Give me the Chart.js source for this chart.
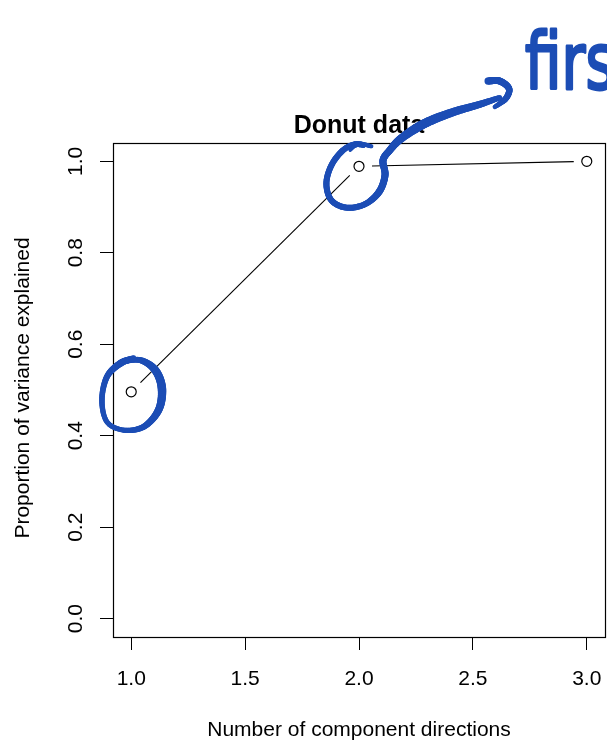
<!DOCTYPE html>
<html>
<head>
<meta charset="utf-8">
<title>Donut data</title>
<script src="https://cdn.jsdelivr.net/npm/chart.js@4.4.1/dist/chart.umd.min.js"></script>
<style>
  html, body { margin: 0; padding: 0; background: #fff; }
  canvas { display: block; }
</style>
</head>
<body>
<canvas id="scree" width="607" height="740"></canvas>
<script>
// Cumulative proportion of variance explained by the leading component directions
const components = [1, 2, 3];
const varianceExplained = [0.496, 0.989, 1.0];

// Axis ticks
const xTicks = [1.0, 1.5, 2.0, 2.5, 3.0];
const yTicks = [0.0, 0.2, 0.4, 0.6, 0.8, 1.0];

// Text
const mainTitle = 'Donut data';
const xTitle = 'Number of component directions';
const yTitle = 'Proportion of variance explained';
const penNote = 'first';

const FONT = '"Liberation Sans", Arial, Helvetica, sans-serif';
const INK = '#000000';
const PEN = '#1c4db5';
const GAP = 13; // space left between a connecting line and its points

function fmt(v) { return v.toFixed(1); }

// Smooth brush stroke through control points with a varying width
function brush(ctx, pts, widths) {
  const n = pts.length;
  const samples = [];
  for (let i = 0; i < n - 1; i++) {
    const p0 = pts[Math.max(i - 1, 0)], p1 = pts[i], p2 = pts[i + 1], p3 = pts[Math.min(i + 2, n - 1)];
    for (let s = 0; s < 12; s++) {
      const t = s / 12, t2 = t * t, t3 = t2 * t;
      const cr = k => 0.5 * ((2 * p1[k]) + (-p0[k] + p2[k]) * t +
        (2 * p0[k] - 5 * p1[k] + 4 * p2[k] - p3[k]) * t2 +
        (-p0[k] + 3 * p1[k] - 3 * p2[k] + p3[k]) * t3);
      samples.push([cr(0), cr(1), widths[i] + (widths[i + 1] - widths[i]) * t]);
    }
  }
  samples.push([pts[n - 1][0], pts[n - 1][1], widths[n - 1]]);
  ctx.save();
  ctx.strokeStyle = PEN;
  ctx.lineCap = 'round';
  ctx.lineJoin = 'round';
  for (let k = 0; k < samples.length - 1; k++) {
    ctx.lineWidth = samples[k][2];
    ctx.beginPath();
    ctx.moveTo(samples[k][0], samples[k][1]);
    ctx.lineTo(samples[k + 1][0], samples[k + 1][1]);
    ctx.stroke();
  }
  ctx.restore();
}

function offsetPts(origin, rel) {
  return rel.map(p => [origin.x + p[0], origin.y + p[1]]);
}

const screePlot = {
  id: 'screePlot',
  beforeDraw(chart) {
    const ctx = chart.ctx;
    ctx.save();
    ctx.fillStyle = '#ffffff';
    ctx.fillRect(0, 0, chart.width, chart.height);
    ctx.restore();
  },
  beforeDatasetsDraw(chart) {
    // connecting lines, broken around each point
    const ctx = chart.ctx, xs = chart.scales.x, ys = chart.scales.y;
    const pts = components.map((c, i) => ({ x: xs.getPixelForValue(c), y: ys.getPixelForValue(varianceExplained[i]) }));
    ctx.save();
    ctx.strokeStyle = INK;
    ctx.lineWidth = 1.1;
    for (let i = 0; i < pts.length - 1; i++) {
      const a = pts[i], b = pts[i + 1];
      const dx = b.x - a.x, dy = b.y - a.y, len = Math.hypot(dx, dy);
      if (len <= 2 * GAP) continue;
      const ux = dx / len, uy = dy / len;
      ctx.beginPath();
      ctx.moveTo(a.x + ux * GAP, a.y + uy * GAP);
      ctx.lineTo(b.x - ux * GAP, b.y - uy * GAP);
      ctx.stroke();
    }
    ctx.restore();
  },
  afterDraw(chart) {
    const ctx = chart.ctx, area = chart.chartArea;
    const xs = chart.scales.x, ys = chart.scales.y;

    // plot frame
    ctx.save();
    ctx.strokeStyle = INK;
    ctx.lineWidth = 1.2;
    ctx.strokeRect(Math.round(area.left) + 0.5, Math.round(area.top) + 0.5,
      Math.round(area.right - area.left), Math.round(area.bottom - area.top));

    ctx.fillStyle = INK;
    // x tick labels
    ctx.font = '21px ' + FONT;
    ctx.textAlign = 'center';
    ctx.textBaseline = 'alphabetic';
    xTicks.forEach(v => ctx.fillText(fmt(v), xs.getPixelForValue(v), 685));
    // y tick labels, rotated
    yTicks.forEach(v => {
      ctx.save();
      ctx.translate(82, ys.getPixelForValue(v));
      ctx.rotate(-Math.PI / 2);
      ctx.fillText(fmt(v), 0, 0);
      ctx.restore();
    });
    // axis titles
    const cx = (area.left + area.right) / 2;
    const cy = (area.top + area.bottom) / 2;
    ctx.fillText(xTitle, cx, 736);
    ctx.save();
    ctx.translate(28.5, cy - 2);
    ctx.rotate(-Math.PI / 2);
    ctx.fillText(yTitle, 0, 0);
    ctx.restore();
    // main title
    ctx.font = 'bold 25px ' + FONT;
    ctx.fillText(mainTitle, cx, 133);
    ctx.restore();

    // hand-drawn highlights around the first two points
    const p1 = { x: xs.getPixelForValue(components[0]), y: ys.getPixelForValue(varianceExplained[0]) };
    const p2 = { x: xs.getPixelForValue(components[1]), y: ys.getPixelForValue(varianceExplained[1]) };

    brush(ctx, offsetPts(p1, [
      [-9.3, -30], [9, -31.7], [24, -21.7], [30.7, -3.4], [27.3, 18.3], [12.3, 35],
      [-7.7, 38.3], [-24.3, 30], [-29.3, 8.3], [-24.3, -15], [-11, -28.4], [2.3, -33.4]
    ]), [5, 6, 8, 8.5, 7.5, 6, 5, 5, 5.5, 6, 7, 6]);

    brush(ctx, offsetPts(p2, [
      [12.4, -20], [-2.6, -22.7], [-16, -16], [-27.6, -1], [-32.6, 17.3], [-27.6, 34],
      [-12.6, 41.3], [5.7, 38], [20, 25.7], [26, 9], [24, -6], [30.7, -16],
      [40.7, -26.7], [57.4, -38.3], [74, -46.7], [97.4, -55.3], [120.7, -62], [140.7, -68.7]
    ]), [4, 5, 6, 6, 6, 6, 6, 6, 7, 7, 7, 7, 8, 9, 9, 8, 7, 5]);

    // small inner stroke at the top of the second loop
    brush(ctx, offsetPts(p2, [[-9, -16], [-3, -21], [5, -20]]), [3, 4, 3]);

    // arrow head
    brush(ctx, offsetPts(p2, [
      [129, -85.3], [140.7, -85.3], [150, -77.7], [146.7, -67.7], [135.7, -59.3]
    ]), [7, 7, 6.5, 6, 4]);

    // note
    ctx.save();
    ctx.fillStyle = PEN;
    ctx.strokeStyle = PEN;
    ctx.lineWidth = 2.2;
    ctx.lineJoin = 'round';
    ctx.font = '58px "DejaVu Sans", sans-serif';
    ctx.textAlign = 'left';
    ctx.textBaseline = 'alphabetic';
    ctx.translate(p2.x + 166, p2.y - 77);
    ctx.scale(1, 1.35);
    ctx.fillText(penNote, 0, 0);
    ctx.strokeText(penNote, 0, 0);
    ctx.restore();
  }
};

const fixedWidth = w => scale => { scale.width = w; };
const fixedHeight = h => scale => { scale.height = h; };

new Chart(document.getElementById('scree'), {
  type: 'scatter',
  data: {
    datasets: [{
      label: mainTitle,
      data: components.map((c, i) => ({ x: c, y: varianceExplained[i] })),
      showLine: false,
      pointStyle: 'circle',
      pointRadius: 5,
      pointHoverRadius: 5,
      pointBorderWidth: 1.2,
      borderColor: INK,
      backgroundColor: 'rgba(255,255,255,0)'
    }]
  },
  options: {
    responsive: false,
    animation: false,
    devicePixelRatio: 1,
    events: [],
    layout: { autoPadding: false, padding: { top: 143, right: 2, bottom: 0, left: 0 } },
    plugins: { legend: { display: false }, tooltip: { enabled: false }, title: { display: false } },
    scales: {
      x: {
        type: 'linear',
        position: 'bottom',
        min: 0.92,
        max: 3.08,
        afterBuildTicks: s => { s.ticks = xTicks.map(v => ({ value: v })); },
        afterFit: fixedHeight(103),
        ticks: { display: false },
        grid: { drawOnChartArea: false, drawTicks: true, tickLength: 13, color: INK, lineWidth: 1 },
        border: { display: false }
      },
      y: {
        type: 'linear',
        position: 'left',
        min: -0.04,
        max: 1.04,
        afterBuildTicks: s => { s.ticks = yTicks.map(v => ({ value: v })); },
        afterFit: fixedWidth(113),
        ticks: { display: false },
        grid: { drawOnChartArea: false, drawTicks: true, tickLength: 13, color: INK, lineWidth: 1 },
        border: { display: false }
      }
    }
  },
  plugins: [screePlot]
});
</script>
</body>
</html>
